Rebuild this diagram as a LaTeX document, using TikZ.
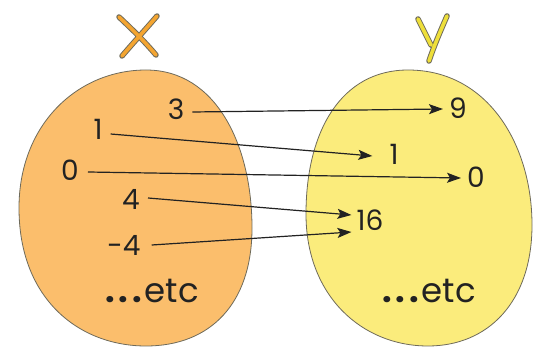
\documentclass[tikz,border=0pt]{standalone}
\usepackage{fontspec}
\setmainfont{Poppins}
\usetikzlibrary{arrows.meta}
\definecolor{xfill}{HTML}{FBBE6C}
\definecolor{yfill}{HTML}{FBEC7C}
\definecolor{xletter}{HTML}{F4A531}
\definecolor{yletter}{HTML}{EEDF3A}
\definecolor{edge}{HTML}{6E6A5A}
\definecolor{ink}{HTML}{222222}
\tikzset{
  blob/.style={draw=edge, line width=0.8pt},
  num/.style={font=\fontsize{28}{28}\selectfont, text=ink, inner sep=3pt},
  etcnode/.style={font=\fontsize{34}{34}\selectfont, text=ink, inner sep=0pt},
  maparrow/.style={draw=ink, line width=1.2pt, -{Stealth[length=14pt, width=10pt, inset=3pt]}},
  letteredge/.style={draw=edge, line width=5.5pt, line cap=round, line join=round},
  letterbody/.style={line width=3.6pt, line cap=round, line join=round}
}
\newcommand{\bigdots}{{\bfseries .\kern4pt.\kern4pt.\kern3pt}}
\begin{document}
\begin{tikzpicture}[x=1pt, y=-1pt]
\useasboundingbox (0,0) rectangle (533,347);
\fill[white] (0,0) rectangle (533,347);

% the two sets
\draw[blob, fill=xfill] (146,70) .. controls (216,70) and (252,145) .. (252,228)
  .. controls (252,304) and (210,346) .. (146,346)
  .. controls (80,346) and (19,300) .. (19,208)
  .. controls (19,124) and (78,70) .. (146,70) -- cycle;
\draw[blob, fill=yfill] (408,70) .. controls (488,70) and (532,145) .. (532,225)
  .. controls (532,302) and (488,346) .. (428,346)
  .. controls (362,346) and (306,296) .. (306,214)
  .. controls (306,130) and (342,70) .. (408,70) -- cycle;

% set names drawn as outlined strokes
\draw[letteredge] (119,17) .. controls (135,32) and (145,42) .. (156,55)
                  (157,16) .. controls (145,30) and (134,42) .. (122,56);
\draw[letterbody, xletter] (119,17) .. controls (135,32) and (145,42) .. (156,55)
                  (157,16) .. controls (145,30) and (134,42) .. (122,56);
\draw[letteredge] (418,19) -- (431,45)
                  (447,16) .. controls (440,32) and (434,46) .. (429,61);
\draw[letterbody, yletter] (418,19) -- (431,45)
                  (447,16) .. controls (440,32) and (434,46) .. (429,61);

% elements of X
\node[num] (x3) at (176,109) {3};
\node[num] (x1) at (98,129) {1};
\node[num] (x0) at (70,170) {0};
\node[num] (x4) at (131,199) {4};
\node[num] (xm4) at (124,245) {-4};
\node[etcnode] (xetc) at (152,291) {\bigdots etc};

% elements of Y
\node[num] (y9) at (458,108) {9};
\node[num] (y1) at (394,154) {1};
\node[num] (y0) at (476,177) {0};
\node[num] (y16) at (370,220) {16};
\node[etcnode] (yetc) at (429,291) {\bigdots etc};

% the mapping x -> x^2
\draw[maparrow] ([xshift=5pt,yshift=-3pt]x3.east) -- ([xshift=-3pt,yshift=-1pt]y9.west);
\draw[maparrow] ([xshift=5pt,yshift=-5pt]x1.east) -- ([xshift=-14pt,yshift=-2pt]y1.west);
\draw[maparrow] ([xshift=6pt,yshift=-2pt]x0.east) -- ([xshift=-3pt,yshift=-1pt]y0.west);
\draw[maparrow] ([xshift=5pt,yshift=1pt]x4.east) -- ([xshift=-2pt,yshift=5pt]y16.west);
\draw[maparrow] ([xshift=8pt,yshift=0pt]xm4.east) -- ([xshift=-2pt,yshift=-12pt]y16.west);
\end{tikzpicture}
\end{document}
